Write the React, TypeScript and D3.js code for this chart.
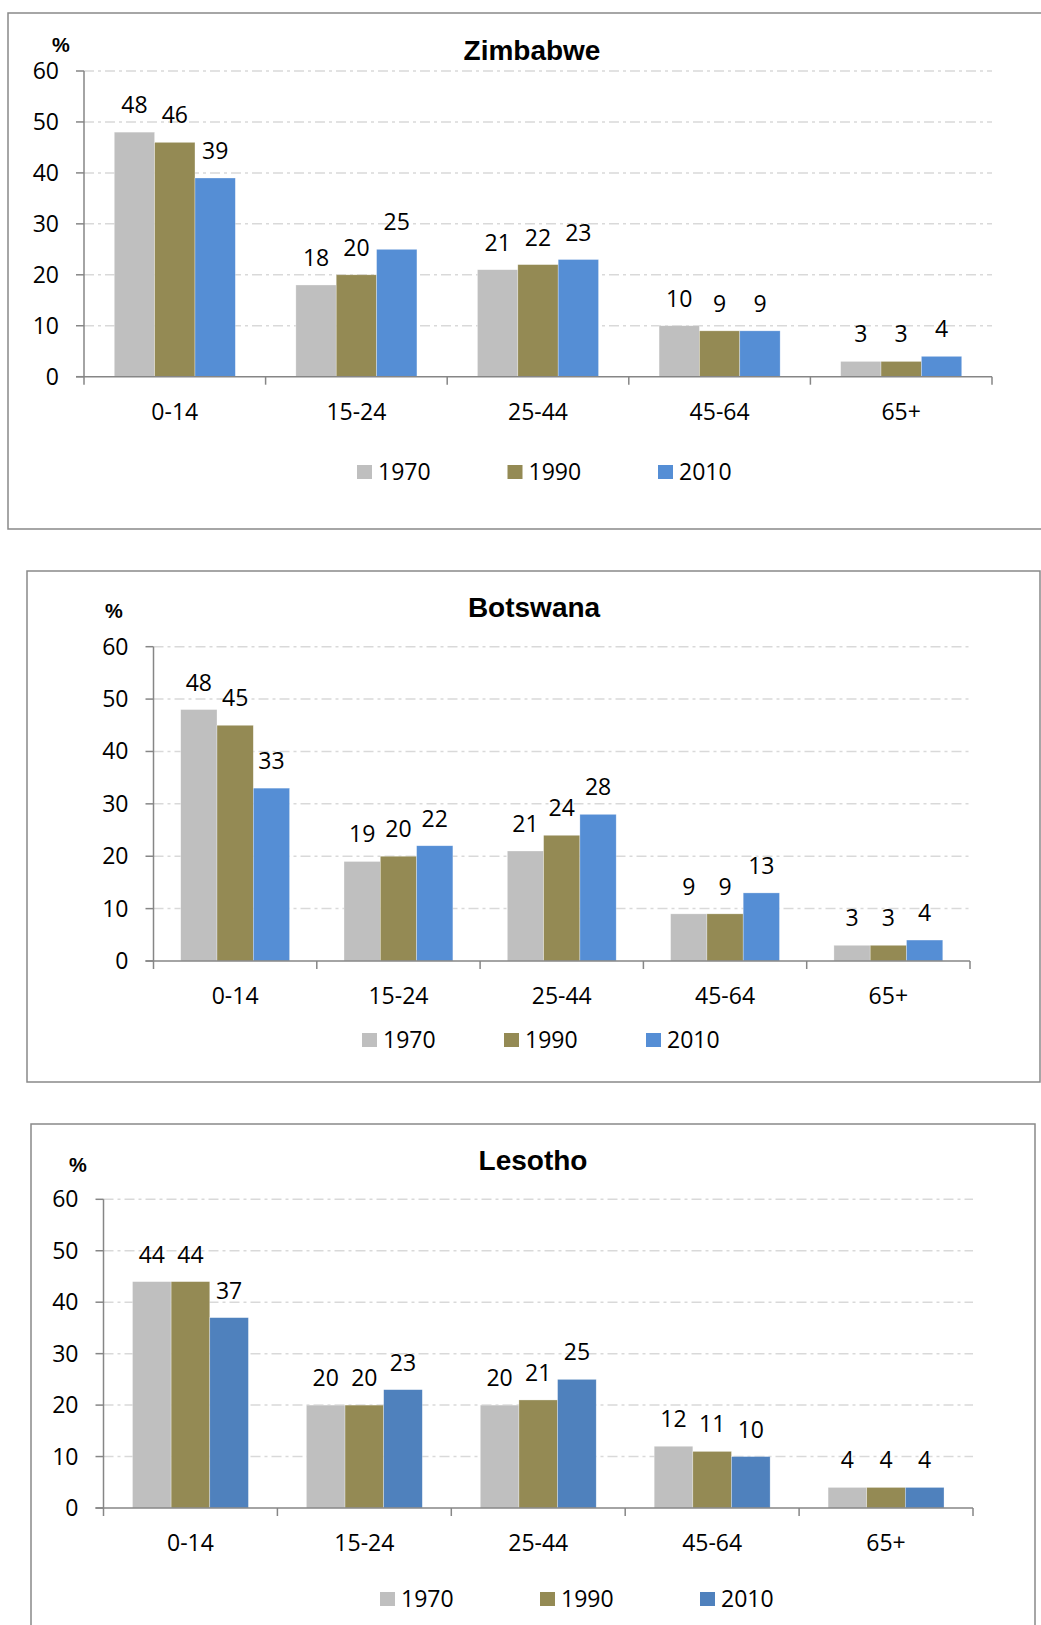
import * as d3 from "d3";

const categories = ["0-14", "15-24", "25-44", "45-64", "65+"];
const years = ["1970", "1990", "2010"];
const yTicks = [0, 10, 20, 30, 40, 50, 60];

const zimbabwe1970 = [48, 18, 21, 10, 3];
const zimbabwe1990 = [46, 20, 22, 9, 3];
const zimbabwe2010 = [39, 25, 23, 9, 4];

const botswana1970 = [48, 19, 21, 9, 3];
const botswana1990 = [45, 20, 24, 9, 3];
const botswana2010 = [33, 22, 28, 13, 4];

const lesotho1970 = [44, 20, 20, 12, 4];
const lesotho1990 = [44, 20, 21, 11, 4];
const lesotho2010 = [37, 23, 25, 10, 4];

const GRAY = "#BFBFBF";
const OLIVE = "#948A54";
const BLUE = "#558ED5";
const BLUE_DARK = "#4F81BD";

const FONT = "'Open Sans', 'Noto Sans', sans-serif";
const BOLD_FONT = "'Liberation Sans', Arial, sans-serif";
const FS = 23;

interface ChartProps {
  title: string;
  series: number[][];
  colors: string[];
  frame: { x0: number; y0: number; x1: number; y1: number };
  plot: { x0: number; x1: number; yTop: number; yZero: number };
  titlePos: { x: number; y: number };
  pctPos: { x: number; y: number };
  legend: { x: number; step: number; y: number };
}

const Chart = ({ title, series, colors, frame, plot, titlePos, pctPos, legend }: ChartProps) => {
  const x = d3.scaleBand<string>().domain(categories).range([plot.x0, plot.x1]).padding(0);
  const bw = x.bandwidth();
  // Excel-style 150% gap width: bars take 3/4.5 of each band
  const xs = d3
    .scaleBand<string>()
    .domain(years)
    .range([bw / 6, (bw * 5) / 6])
    .padding(0);
  const y = d3.scaleLinear().domain([0, 60]).range([plot.yZero, plot.yTop]);

  const tickXs = categories.map((c) => x(c)!).concat([plot.x1]);

  return (
    <g>
      <rect
        x={frame.x0}
        y={frame.y0}
        width={frame.x1 - frame.x0}
        height={frame.y1 - frame.y0}
        fill="#fff"
        stroke="#898989"
        strokeWidth={1.5}
      />
      <text x={titlePos.x} y={titlePos.y} textAnchor="middle" fontFamily={BOLD_FONT} fontWeight="bold" fontSize={28}>
        {title}
      </text>
      <text x={pctPos.x} y={pctPos.y} fontFamily={BOLD_FONT} fontWeight="bold" fontSize={20}>
        %
      </text>

      {/* gridlines */}
      {yTicks
        .filter((t) => t > 0)
        .map((t) => (
          <line
            key={"g" + t}
            x1={plot.x0}
            x2={plot.x1}
            y1={y(t)}
            y2={y(t)}
            stroke="#D9D9D9"
            strokeWidth={1.5}
            strokeDasharray="10,4,3,4"
          />
        ))}

      {/* bars */}
      {series.map((vals, si) =>
        vals.map((v, ci) => {
          const bx = x(categories[ci])! + xs(years[si])!;
          return (
            <g key={`b${si}-${ci}`}>
              <rect
                x={bx}
                y={y(v)}
                width={xs.bandwidth()}
                height={y(0) - y(v)}
                fill={colors[si]}
                stroke="#fff"
                strokeOpacity={0.5}
                strokeWidth={0.6}
              />
              <text
                x={bx + xs.bandwidth() / 2}
                y={y(v) - 19}
                textAnchor="middle"
                fontFamily={FONT}
                fontSize={FS}
                fill="#000"
              >
                {v}
              </text>
            </g>
          );
        })
      )}

      {/* y axis */}
      <line x1={plot.x0} x2={plot.x0} y1={y(60)} y2={y(0)} stroke="#868686" strokeWidth={1.5} />
      {yTicks.map((t) => (
        <g key={"y" + t}>
          <line x1={plot.x0 - 8} x2={plot.x0} y1={y(t)} y2={y(t)} stroke="#868686" strokeWidth={1.5} />
          <text x={plot.x0 - 25} y={y(t) + 8} textAnchor="end" fontFamily={FONT} fontSize={FS}>
            {t}
          </text>
        </g>
      ))}

      {/* x axis */}
      <line x1={plot.x0 - 8} x2={plot.x1} y1={y(0)} y2={y(0)} stroke="#868686" strokeWidth={1.5} />
      {tickXs.map((tx, i) => (
        <line key={"xt" + i} x1={tx} x2={tx} y1={y(0)} y2={y(0) + 8} stroke="#868686" strokeWidth={1.5} />
      ))}
      {categories.map((c) => (
        <text
          key={"c" + c}
          x={x(c)! + bw / 2}
          y={y(0) + 43}
          textAnchor="middle"
          fontFamily={FONT}
          fontSize={FS}
        >
          {c}
        </text>
      ))}

      {/* legend */}
      {years.map((yr, i) => (
        <g key={"l" + yr} transform={`translate(${legend.x + i * legend.step},${legend.y})`}>
          <rect x={0} y={-7} width={15} height={14} fill={colors[i]} />
          <text x={21} y={8} fontFamily={FONT} fontSize={FS}>
            {yr}
          </text>
        </g>
      ))}
    </g>
  );
};

export default function App() {
  return (
    <svg
      width={1041}
      height={1625}
      style={{ position: "absolute", left: 0, top: 0, background: "#fff" }}
    >
      <rect x={0} y={0} width={1041} height={1625} fill="#fff" />
      <Chart
        title="Zimbabwe"
        series={[zimbabwe1970, zimbabwe1990, zimbabwe2010]}
        colors={[GRAY, OLIVE, BLUE]}
        frame={{ x0: 8, y0: 13, x1: 1043, y1: 529 }}
        plot={{ x0: 84, x1: 992, yTop: 71, yZero: 376.7 }}
        titlePos={{ x: 532, y: 60 }}
        pctPos={{ x: 52, y: 52 }}
        legend={{ x: 357, step: 150.5, y: 472 }}
      />
      <Chart
        title="Botswana"
        series={[botswana1970, botswana1990, botswana2010]}
        colors={[GRAY, OLIVE, BLUE]}
        frame={{ x0: 27, y0: 571, x1: 1040, y1: 1082 }}
        plot={{ x0: 153.5, x1: 970, yTop: 646.7, yZero: 961 }}
        titlePos={{ x: 534, y: 617 }}
        pctPos={{ x: 105, y: 618 }}
        legend={{ x: 362, step: 142, y: 1040 }}
      />
      <Chart
        title="Lesotho"
        series={[lesotho1970, lesotho1990, lesotho2010]}
        colors={[GRAY, OLIVE, BLUE_DARK]}
        frame={{ x0: 31, y0: 1124, x1: 1035, y1: 1640 }}
        plot={{ x0: 103.5, x1: 973, yTop: 1199.3, yZero: 1508 }}
        titlePos={{ x: 533, y: 1170 }}
        pctPos={{ x: 69, y: 1172 }}
        legend={{ x: 380, step: 160, y: 1599 }}
      />
    </svg>
  );
}
